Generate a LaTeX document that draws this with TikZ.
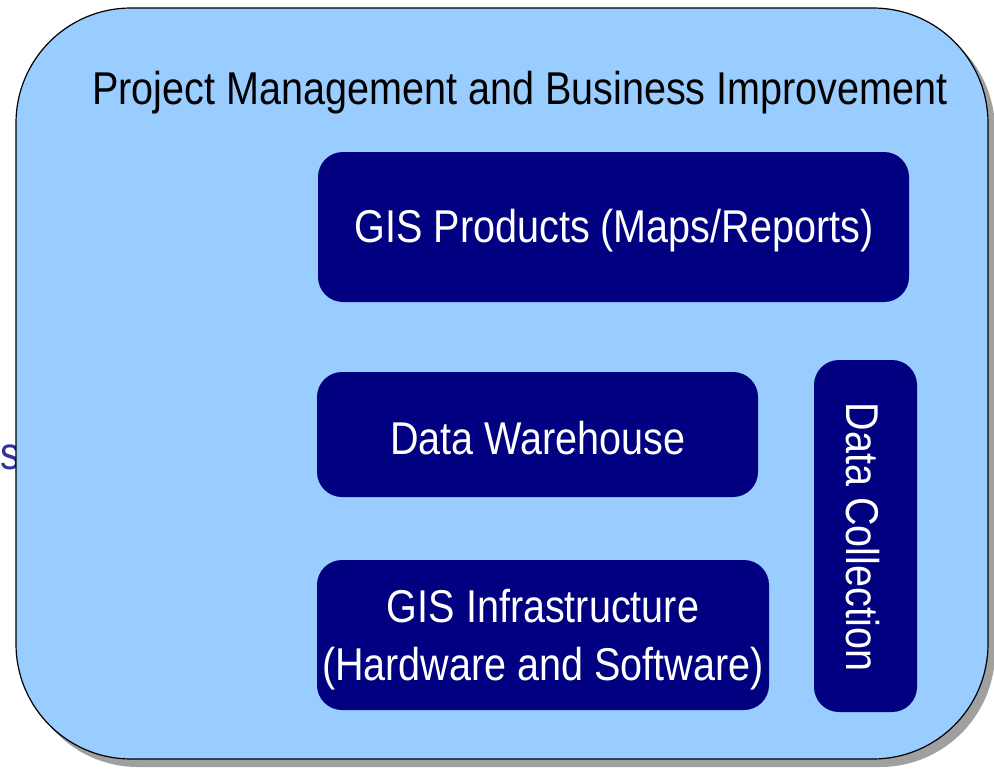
\documentclass[tikz,border=0pt]{standalone}
\usepackage{fontspec}
\setmainfont{Liberation Sans}[FakeStretch=0.86]
\definecolor{lightbg}{HTML}{99CCFF}
\definecolor{navy}{HTML}{000080}
\definecolor{shadowgray}{HTML}{A0A0A0}
\definecolor{stray}{HTML}{333399}
\tikzset{
  darkbox/.style={fill=navy, draw=none, rounded corners=25pt, inner sep=0pt},
  bigtext/.style={font=\fontsize{46}{57}\selectfont, inner sep=0pt, align=center},
  boxtext/.style={bigtext, text=white}
}
\begin{document}
\begin{tikzpicture}[x=1pt,y=-1pt]
\useasboundingbox (0,0) rectangle (994,771);
\node[bigtext, text=stray] (stray) at (10,457) {s};
\fill[shadowgray, rounded corners=115pt] (23,15) rectangle (995,767);
\node[fill=lightbg, draw=black, line width=1.2pt, rounded corners=115pt, minimum width=972pt, minimum height=751pt, inner sep=0pt] (outer) at (502,383.5) {};
\node[bigtext] (title) at (520,93) {Project Management and Business Improvement};
\node[darkbox, minimum width=591pt, minimum height=150pt] (products) at (613.5,227) {};
\node[boxtext] (productslabel) at (614,231) {GIS Products (Maps/Reports)};
\node[darkbox, minimum width=441pt, minimum height=125pt] (warehouse) at (537.5,434.5) {};
\node[boxtext] (warehouselabel) at (538,438) {Data Warehouse};
\node[darkbox, minimum width=452pt, minimum height=150pt] (infra) at (543,635) {};
\node[boxtext, font=\fontsize{46}{58}\selectfont] (infralabel) at (543,640) {GIS Infrastructure\\(Hardware and Software)};
\node[darkbox, minimum width=103pt, minimum height=352pt] (collection) at (865.5,536) {};
\node[boxtext, rotate=-90] (collabel) at (863,537) {Data Collection};
\end{tikzpicture}
\end{document}
